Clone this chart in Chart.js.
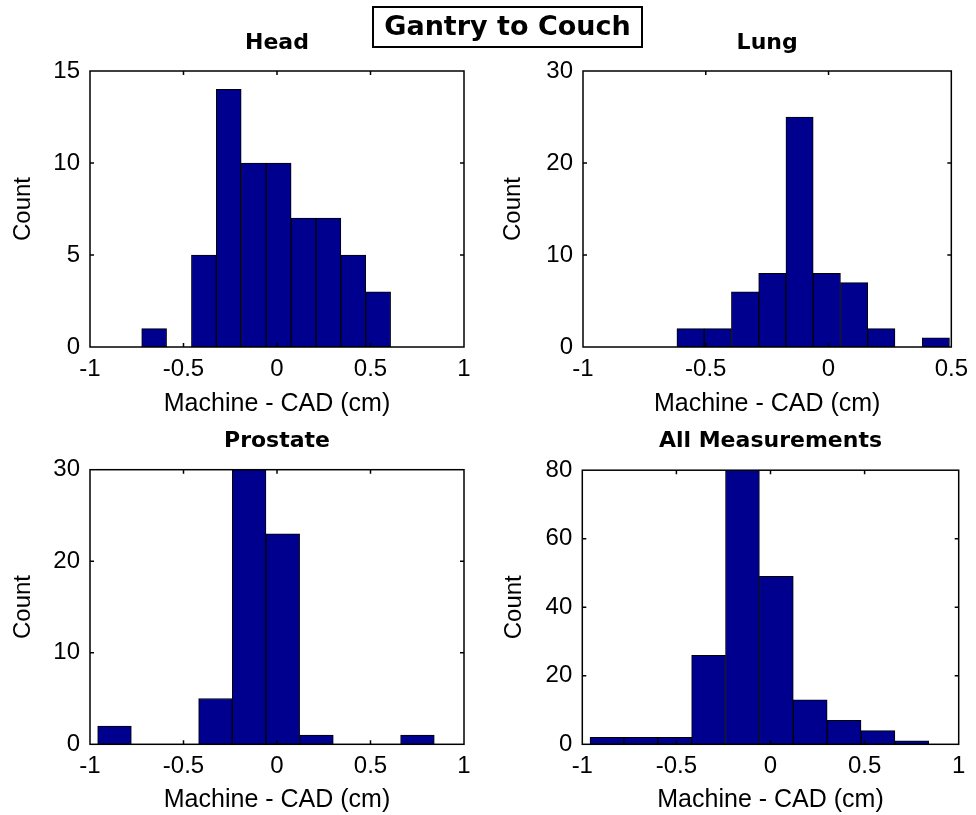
<!DOCTYPE html>
<html>
<head>
<meta charset="utf-8">
<script src="https://cdn.jsdelivr.net/npm/chart.js@4.4.0/dist/chart.umd.min.js"></script>
<style>
  body { margin: 0; background: #fff; }
  #page { position: relative; width: 976px; height: 815px; overflow: hidden; background: #fff; }
  #page canvas { position: absolute; }
  #suptitle {
    position: absolute; left: 372px; top: 6px; width: 267px; height: 38px;
    border: 2px solid #000; font: bold 27px "DejaVu Sans", sans-serif;
    text-align: center; line-height: 36px; color: #000; z-index: 2;
  }
</style>
</head>
<body>
<div id="page">
  <div id="suptitle">Gantry to Couch</div>
  <canvas id="head" width="488" height="425" style="left:0;top:0"></canvas>
  <canvas id="lung" width="488" height="425" style="left:488px;top:0"></canvas>
  <canvas id="prostate" width="488" height="410" style="left:0;top:405px"></canvas>
  <canvas id="all" width="488" height="410" style="left:488px;top:405px"></canvas>
</div>
<script>
// BIN CENTRES (cm) AND COUNTS
const headBins = [-0.657, -0.524, -0.391, -0.258, -0.124, 0.009, 0.142, 0.275, 0.408, 0.541];
const headCounts = [1, 0, 5, 14, 10, 10, 7, 7, 5, 3];

const lungBins = [-0.562, -0.451, -0.340, -0.229, -0.118, -0.007, 0.104, 0.215, 0.326, 0.437];
const lungCounts = [2, 2, 6, 8, 25, 8, 7, 2, 0, 1];

const prostateBins = [-0.869, -0.689, -0.509, -0.329, -0.149, 0.031, 0.211, 0.391, 0.571, 0.751];
const prostateCounts = [2, 0, 0, 5, 30, 23, 1, 0, 0, 1];

const allBins = [-0.869, -0.689, -0.509, -0.329, -0.149, 0.031, 0.211, 0.391, 0.571, 0.751];
const allCounts = [2, 2, 2, 26, 80, 49, 13, 7, 4, 1];

// TICKS
const xTicksFull = [-1, -0.5, 0, 0.5, 1];
const xTicksLung = [-1, -0.5, 0, 0.5];
const headYTicks = [0, 5, 10, 15];
const lungYTicks = [0, 10, 20, 30];
const prostateYTicks = [0, 10, 20, 30];
const allYTicks = [0, 20, 40, 60, 80];

Chart.defaults.color = "#000";
Chart.defaults.font.family = "'Liberation Sans', Arial, sans-serif";

// box round the plot, with ticks pointing in (matlab style)
const framePlugin = {
    id: "frame",
    afterDatasetsDraw(chart) {
        const ctx = chart.ctx;
        const a = chart.chartArea;
        const x = chart.scales.x;
        const y = chart.scales.y;
        ctx.save();
        ctx.strokeStyle = "#000";
        ctx.lineWidth = 1.5;
        ctx.strokeRect(a.left, a.top, a.right - a.left, a.bottom - a.top);
        ctx.beginPath();
        x.ticks.forEach(t => {
            const px = x.getPixelForValue(t.value);
            if (px <= a.left + 2 || px >= a.right - 2) return;
            ctx.moveTo(px, a.bottom); ctx.lineTo(px, a.bottom - 4);
            ctx.moveTo(px, a.top); ctx.lineTo(px, a.top + 4);
        });
        y.ticks.forEach(t => {
            const py = y.getPixelForValue(t.value);
            if (py >= a.bottom - 2 || py <= a.top + 2) return;
            ctx.moveTo(a.left, py); ctx.lineTo(a.left + 4, py);
            ctx.moveTo(a.right, py); ctx.lineTo(a.right - 4, py);
        });
        ctx.stroke();
        ctx.restore();
    }
};

function makeHist(id, opt) {
    new Chart(document.getElementById(id), {
        type: "bar",
        data: {
            datasets: [{
                data: opt.bins.map((b, i) => ({ x: b, y: opt.counts[i] })),
                backgroundColor: "#00008f",
                borderColor: "#000",
                borderWidth: 1,
                borderSkipped: false,
                barPercentage: 1,
                categoryPercentage: 1
            }]
        },
        options: {
            responsive: false,
            animation: false,
            devicePixelRatio: 1,
            layout: { autoPadding: false, padding: { left: 0, right: opt.padRight, top: 0, bottom: 0 } },
            plugins: {
                legend: { display: false },
                tooltip: { enabled: false },
                title: {
                    display: true,
                    fullSize: false,
                    text: opt.title,
                    font: { family: "'DejaVu Sans', sans-serif", size: 22, weight: "bold" },
                    padding: opt.titlePad
                }
            },
            scales: {
                x: {
                    type: "linear",
                    offset: false,
                    min: opt.xMin,
                    max: opt.xMax,
                    grid: { display: false, drawTicks: false, tickLength: 0 },
                    border: { display: false },
                    afterBuildTicks: s => { s.ticks = opt.xTicks.map(v => ({ value: v })); },
                    afterFit: s => { s.height = opt.xHeight; },
                    ticks: {
                        padding: 8,
                        maxRotation: 0,
                        autoSkip: false,
                        font: { size: 24 },
                        callback: v => String(v)
                    },
                    title: {
                        display: true,
                        text: "Machine - CAD (cm)",
                        font: { size: 25 },
                        padding: { top: 0, bottom: opt.xTitlePad }
                    }
                },
                y: {
                    min: 0,
                    max: opt.yTicks[opt.yTicks.length - 1],
                    grid: { display: false, drawTicks: false, tickLength: 0 },
                    border: { display: false },
                    afterBuildTicks: s => { s.ticks = opt.yTicks.map(v => ({ value: v })); },
                    afterFit: s => { s.width = opt.yWidth; },
                    ticks: {
                        padding: 10,
                        font: { size: 24 },
                        callback: v => String(v)
                    },
                    title: {
                        display: true,
                        text: "Count",
                        font: { size: 24 },
                        padding: { top: opt.yTitlePad, bottom: 0 }
                    }
                }
            }
        },
        plugins: [framePlugin]
    });
}

makeHist("head", {
    bins: headBins, counts: headCounts, title: "Head",
    xMin: -1, xMax: 1, xTicks: xTicksFull, yTicks: headYTicks,
    yWidth: 90, padRight: 24, xHeight: 78,
    titlePad: { top: 30.5, bottom: 14.1 }, xTitlePad: 6, yTitlePad: 9
});

makeHist("lung", {
    bins: lungBins, counts: lungCounts, title: "Lung",
    xMin: -1, xMax: 0.5, xTicks: xTicksLung, yTicks: lungYTicks,
    yWidth: 95, padRight: 17, xHeight: 78,
    titlePad: { top: 30.5, bottom: 14.1 }, xTitlePad: 6, yTitlePad: 11
});

makeHist("prostate", {
    bins: prostateBins, counts: prostateCounts, title: "Prostate",
    xMin: -1, xMax: 1, xTicks: xTicksFull, yTicks: prostateYTicks,
    yWidth: 90, padRight: 24, xHeight: 70.7,
    titlePad: { top: 22.8, bottom: 15.5 }, xTitlePad: 0, yTitlePad: 9
});

makeHist("all", {
    bins: allBins, counts: allCounts, title: "All Measurements",
    xMin: -1, xMax: 1, xTicks: xTicksFull, yTicks: allYTicks,
    yWidth: 94.3, padRight: 17.3, xHeight: 70.7,
    titlePad: { top: 22.8, bottom: 16 }, xTitlePad: 0, yTitlePad: 12
});
</script>
</body>
</html>
